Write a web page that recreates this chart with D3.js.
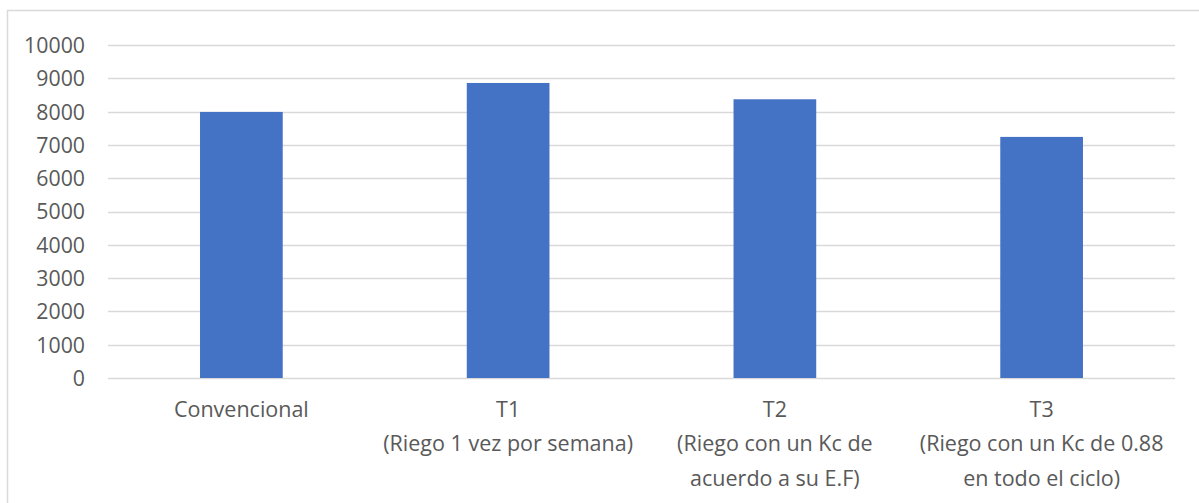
<!DOCTYPE html>
<html>
<head>
<meta charset="utf-8">
<script src="https://cdn.jsdelivr.net/npm/d3@7"></script>
<style>
  html, body { margin: 0; padding: 0; background: #fff; }
  svg { display: block; }
</style>
</head>
<body>
<svg id="chart" width="1199" height="503"></svg>
<script>
// Treatments (each label line drawn as its own row)
const categories = ["Convencional", "T1", "T2", "T3"];
const categoryLines = [
  ["Convencional"],
  ["T1", "(Riego 1 vez por semana)"],
  ["T2", "(Riego con un Kc de", "acuerdo a su E.F)"],
  ["T3", "(Riego con un Kc de 0.88", "en todo el ciclo)"]
];
const values = [7990, 8860, 8370, 7240];
const yTicks = [0, 1000, 2000, 3000, 4000, 5000, 6000, 7000, 8000, 9000, 10000];

const svg = d3.select("#chart");
const W = 1199, H = 503;
const margin = { left: 108, right: 24, top: 45, bottom: 125 };
const FONT = "'Open Sans', 'Liberation Sans', sans-serif";
const TEXT = "#595959";
const GRID = "#d9d9d9";

// outer frame
svg.append("rect")
  .attr("x", 7.5).attr("y", 10.5)
  .attr("width", W + 20).attr("height", H + 20)
  .attr("fill", "none").attr("stroke", GRID).attr("stroke-width", 1.5);

const x = d3.scaleBand()
  .domain(categories)
  .range([margin.left, W - margin.right])
  .padding(0);

const y = d3.scaleLinear()
  .domain([0, 10000])
  .range([H - margin.bottom, margin.top]);

// gridlines
svg.append("g")
  .selectAll("line")
  .data(yTicks)
  .join("line")
  .attr("x1", margin.left).attr("x2", W - margin.right)
  .attr("y1", d => Math.round(y(d)) + 0.5).attr("y2", d => Math.round(y(d)) + 0.5)
  .attr("stroke", GRID).attr("stroke-width", 1.5);

// y axis labels
const yAxis = d3.axisLeft(y).tickValues(yTicks).tickSize(0).tickPadding(0).tickFormat(d3.format("d"));
const gy = svg.append("g")
  .attr("transform", `translate(85,0)`)
  .call(yAxis);
gy.select(".domain").remove();
gy.selectAll("text")
  .attr("font-family", FONT).attr("font-size", 21.3).attr("fill", TEXT)
  .attr("dy", "0.35em");

// bars
const barFrac = 0.31;
svg.append("g")
  .selectAll("rect")
  .data(values)
  .join("rect")
  .attr("x", (d, i) => x(categories[i]) + x.bandwidth() * (1 - barFrac) / 2)
  .attr("width", x.bandwidth() * barFrac)
  .attr("y", d => y(d))
  .attr("height", d => y(0) - y(d))
  .attr("fill", "#4472c4");

// category labels
const lineGap = 34.5;
const labels = svg.append("g")
  .selectAll("text")
  .data(categoryLines)
  .join("text")
  .attr("x", (d, i) => x(categories[i]) + x.bandwidth() / 2)
  .attr("y", 409)
  .attr("text-anchor", "middle")
  .attr("font-family", FONT).attr("font-size", 21.5).attr("fill", TEXT);
labels.selectAll("tspan")
  .data(d => d)
  .join("tspan")
  .attr("x", function () { return d3.select(this.parentNode).attr("x"); })
  .attr("dy", (d, i) => i === 0 ? "0.35em" : lineGap)
  .text(d => d);
</script>
</body>
</html>
